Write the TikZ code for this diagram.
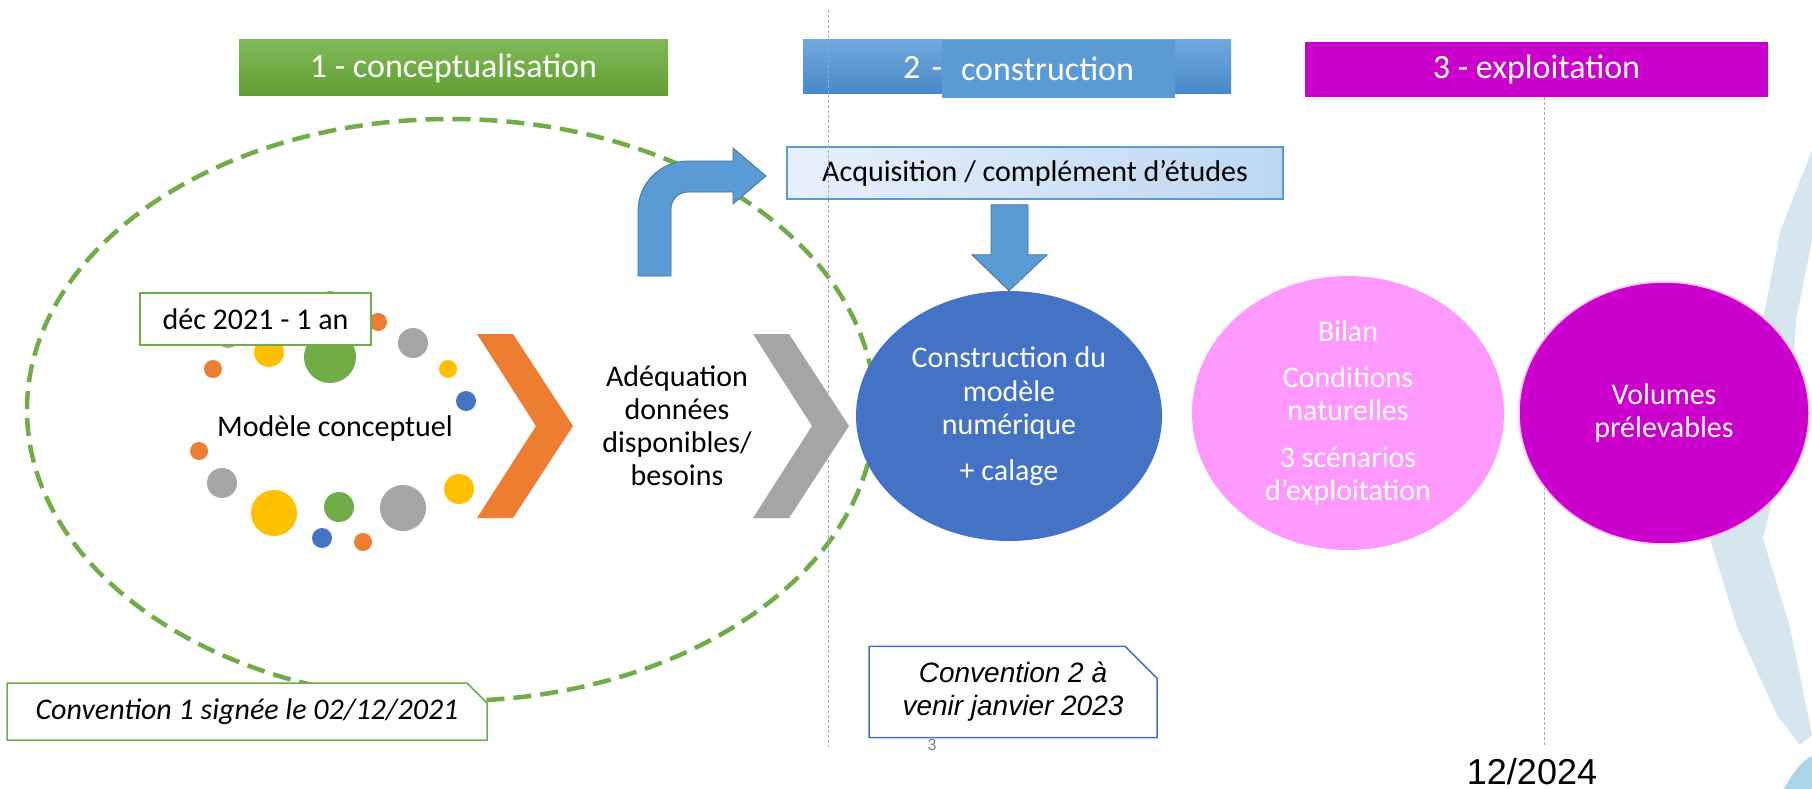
\documentclass[tikz,border=0pt]{standalone}
\usepackage{fontspec}
\setmainfont{Carlito}
\newfontfamily\arialfont{Liberation Sans}
\usepackage{tikz}
\usetikzlibrary{positioning,calc,shapes.geometric,shapes.misc}
\definecolor{phgreen}{RGB}{112,173,71}
\definecolor{phgreentop}{RGB}{128,186,88}
\definecolor{phgreenbot}{RGB}{96,158,50}
\definecolor{phbluetop}{RGB}{112,168,222}
\definecolor{phbluebot}{RGB}{72,136,201}
\definecolor{phblue}{RGB}{91,155,213}
\definecolor{phblueline}{RGB}{65,113,156}
\definecolor{phmagenta}{RGB}{204,0,204}
\definecolor{phpink}{RGB}{255,153,255}
\definecolor{phdeep}{RGB}{68,114,196}
\definecolor{acqleft}{RGB}{232,241,251}
\definecolor{acqright}{RGB}{189,215,243}
\definecolor{dotorange}{RGB}{237,125,49}
\definecolor{dotgray}{RGB}{165,165,165}
\definecolor{dotyellow}{RGB}{255,192,0}
\definecolor{dotgreen}{RGB}{112,173,71}
\definecolor{dotblue}{RGB}{68,114,196}
\definecolor{guide}{RGB}{143,170,220}
\definecolor{brush}{RGB}{214,230,238}
\definecolor{brushcyan}{RGB}{168,214,232}
\newcommand{\fsz}[2]{\fontsize{#1}{#2}\selectfont}

\begin{document}
\begin{tikzpicture}[x=1pt, y=-1pt,
  banner/.style={minimum height=56, inner sep=0, text=white, font=\fsz{34}{40}},
  phase/.style={ellipse, inner sep=0, text=white, align=center, font=\fsz{30}{33.5}},
  tagbox/.style={draw=phgreen, line width=1.5, fill=white, inner sep=0, font=\fsz{30}{34}},
  notebox/.style={chamfered rectangle, chamfered rectangle corners=north east,
    fill=white, line width=1.5, inner sep=0, align=center},
  blockarrow/.style={fill=phblue, draw=phblueline, line width=0.8},
  vguide/.style={guide, line width=0.9, dash pattern=on 3pt off 2pt},
  chevron/.pic={\fill (0,0) -- (36,0) -- (96,92) -- (36,184) -- (0,184) -- (59,92) -- cycle;}]
  \useasboundingbox[fill=white] (0,0) rectangle (1812,789);

  % brush decoration on the right
  \fill[brush] (1812,150) -- (1780,232) -- (1763,320) -- (1740,450) -- (1710,539)
    -- (1737,627) -- (1777,715) -- (1800,745) -- (1812,735) -- (1790,627)
    -- (1763,539) -- (1790,420) -- (1796,320) -- (1812,240) -- cycle;
  \fill[brushcyan] (1784,789) .. controls (1793,772) and (1803,760) .. (1812,756) -- (1812,789) -- cycle;

  % phase 1 frame
  \draw[phgreen, line width=4.5, dash pattern=on 18pt off 9pt] (451,410) ellipse[x radius=424, y radius=291];

  % dots round the conceptual model
  \foreach \dx/\dy/\dr/\dc in {228/336/12/dotgray, 330/302/11/dotgreen, 378/322/9/dotorange,
      413/343/15/dotgray, 269/352/15/dotyellow, 330/357/26/dotgreen, 213/369/9/dotorange,
      448/369/9/dotyellow, 466/401/10/dotblue, 199/451/9/dotorange, 222/483/15/dotgray,
      459/489/15/dotyellow, 274/513/23/dotyellow, 339/507/15/dotgreen, 403/508/23/dotgray,
      322/538/10/dotblue, 363/542/9/dotorange}
    \fill[\dc] (\dx,\dy) circle[radius=\dr];
  \node[font=\fsz{30}{34}] (model) at (335,428) {Modèle conceptuel};
  \node[tagbox, minimum width=231, minimum height=52] (start) at (255.5,319) {déc 2021 - 1 an};

  % chevrons
  \pic[dotorange] at (477,334) {chevron};
  \pic[dotgray] at (753,334) {chevron};
  \node[align=center, font=\fsz{30}{33}] (fit) at (677,426) {Adéquation\\données\\disponibles/\\besoins};

  % phase banners
  \node[banner, top color=phgreentop, bottom color=phgreenbot, minimum width=429] (ban1) at (453.5,68) {1 - conceptualisation};
  \node[banner, top color=phbluetop, bottom color=phbluebot, minimum height=54,
        text width=228, align=left, inner xsep=100] (ban2) at (1017,67) {2 -};
  \node[banner, fill=phblue, minimum height=58, text width=195, align=left, inner xsep=19] (ban2b) at (1058.5,69) {construction};
  \node[banner, fill=phmagenta, minimum width=463, minimum height=55] (ban3) at (1536.5,69.5) {3 - exploitation};

  % acquisition step
  \node[draw=phblue, line width=1.5, left color=acqleft, right color=acqright,
        minimum width=496, minimum height=52, inner sep=0, font=\fsz{30}{34}] (acq) at (1035,173) {Acquisition / complément d’études};
  \coordinate (bendfoot) at (654,276);
  \filldraw[blockarrow] ([xshift=-16pt]bendfoot) -- ++(0,-65) arc[start angle=180, end angle=270, radius=50]
    -- ++(45,0) -- ++(0,-13) -- ++(33,28) -- ++(-33,28) -- ++(0,-12) -- ++(-45,0)
    arc[start angle=270, end angle=180, radius=17] -- ++(0,67) -- cycle;

  % time guides
  \draw[vguide] (828,10) -- (828,747);
  \draw[vguide] (ban3.south -| 1544,0) -- (1544,745);

  % phases
  \node[phase, fill=phdeep, minimum width=306, minimum height=250] (numeric) at (1009,416)
    {Construction du\\modèle\\numérique\\[12pt]+ calage};
  \node[phase, fill=phpink, minimum width=312, minimum height=274] (balance) at (1348,413)
    {Bilan\\[12pt]Conditions\\naturelles\\[13pt]3 scénarios\\d’exploitation};
  \node[phase, fill=phmagenta, draw=phpink!60, line width=1.5, minimum width=290, minimum height=262] (volumes) at (1664,413)
    {Volumes\\prélevables};
  \filldraw[blockarrow] (numeric.north) -- ++(-37,-36) -- ++(19,0) -- ++(0,-50) -- ++(37,0)
    -- ++(0,50) -- ++(19,0) -- cycle;

  % agreements
  \node[notebox, draw=phgreen, chamfered rectangle xsep=10pt, chamfered rectangle ysep=10pt,
        minimum width=480, minimum height=57, font=\itshape\fsz{30}{34}] (conv1) at (247,711.5)
    {Convention 1 signée le 02/12/2021};
  \node[notebox, draw=phdeep, chamfered rectangle xsep=16pt, chamfered rectangle ysep=16pt,
        minimum width=288, minimum height=90, font=\arialfont\itshape\fsz{28}{33}] (conv2) at (1013,692)
    {Convention 2 à\\venir janvier 2023};
  \node[text=gray, font=\arialfont\fsz{16}{18}] (page) at (932,745) {3};
  \node[font=\arialfont\fsz{36}{40}] (end) at (1532,772) {12/2024};
\end{tikzpicture}
\end{document}
